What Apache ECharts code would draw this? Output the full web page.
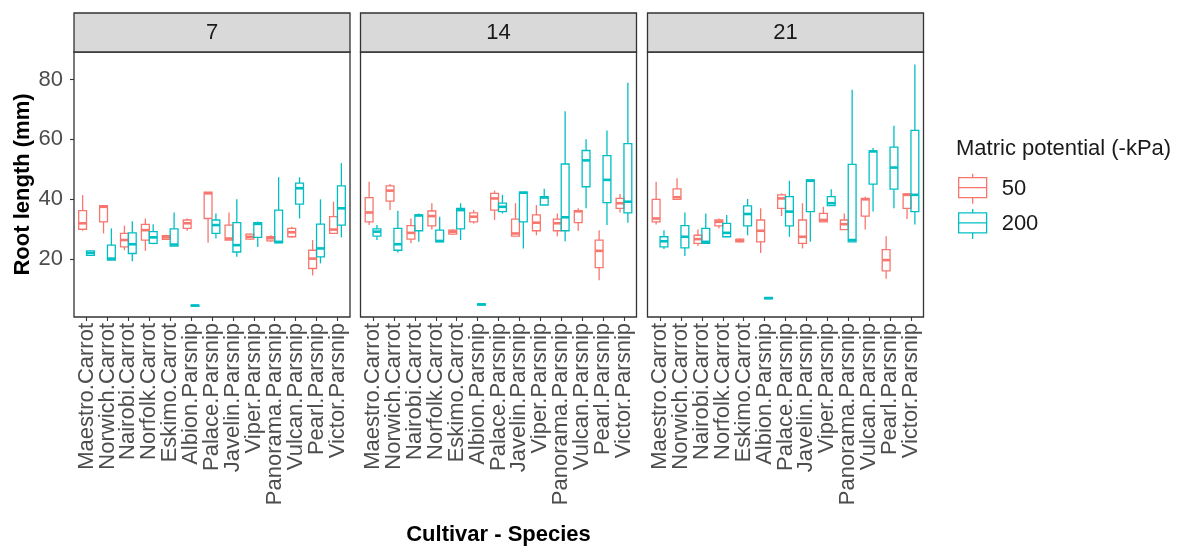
<!DOCTYPE html>
<html><head><meta charset="utf-8">
<script src="https://cdn.jsdelivr.net/npm/echarts@6/dist/echarts.min.js"></script>
<style>html,body{margin:0;padding:0;background:#fff}#c{width:1188px;height:550px}</style>
</head><body><div id="c"></div>
<script>
const categories = ['Maestro.Carrot','Norwich.Carrot','Nairobi.Carrot','Norfolk.Carrot','Eskimo.Carrot','Albion.Parsnip','Palace.Parsnip','Javelin.Parsnip','Viper.Parsnip','Panorama.Parsnip','Vulcan.Parsnip','Pearl.Parsnip','Victor.Parsnip'];
const days = ['7', '14', '21'];
const potentials = ['50', '200'];
const yTicks = [20, 40, 60, 80];

// each row: [min, Q1, median, Q3, max]
const day7_kPa50 = [[29.5,30.0,32.0,36.2,41.4],[28.6,32.5,37.5,37.9,37.9],[23.0,24.1,26.4,28.6,31.2],[22.8,26.4,29.7,31.6,33.6],[26.4,26.6,27.3,27.9,28.2],[29.5,30.3,32.0,33.1,33.6],[25.5,33.6,42.0,42.4,42.4],[26.4,26.4,26.9,31.4,35.6],[26.4,26.7,27.5,28.4,28.6],[25.8,26.1,27.0,27.5,28.0],[27.2,27.5,29.0,30.3,30.8],[14.6,16.9,20.2,23.0,26.4],[28.6,28.6,29.9,34.2,39.2]];
const day7_kPa200 = [[21.2,21.3,22.1,22.8,23.0],[19.7,19.7,20.2,24.7,30.3],[19.3,21.9,25.0,28.8,32.7],[25.0,25.3,27.3,29.2,31.7],[24.4,24.4,24.9,30.1,35.6],[4.2,4.3,4.5,4.7,4.8],[26.9,28.6,31.4,33.1,35.3],[20.8,22.4,24.7,32.2,40.0],[24.1,27.3,31.8,32.2,32.6],[25.5,25.5,25.8,36.4,47.4],[33.6,38.4,43.7,45.4,47.4],[18.6,20.8,23.6,31.7,40.0],[27.3,31.4,37.0,44.5,52.1]];
const day14_kPa50 = [[31.4,32.5,35.6,40.6,45.9],[36.4,39.4,42.9,44.5,45.1],[25.3,26.7,28.8,31.2,33.6],[29.9,31.1,34.4,36.1,38.7],[28.2,28.4,29.2,29.7,30.0],[31.9,32.5,34.2,35.5,36.4],[33.1,36.4,40.3,42.0,42.9],[27.7,27.7,28.6,33.4,38.7],[28.0,29.5,32.2,34.8,38.1],[27.7,29.5,32.0,33.4,35.3],[29.5,32.2,36.0,36.2,37.0],[13.0,17.2,22.8,26.4,29.7],[35.6,37.0,38.7,40.3,41.8]];
const day14_kPa200 = [[26.4,27.7,29.2,30.1,31.4],[22.2,23.0,25.0,30.3,36.2],[25.8,29.5,34.6,34.8,35.3],[25.8,25.8,26.1,29.7,34.2],[26.4,30.1,36.4,37.0,38.7],[4.6,4.7,4.9,5.1,5.2],[35.3,35.9,37.5,38.7,41.5],[23.6,32.5,42.2,42.4,42.4],[38.1,38.1,40.6,40.9,43.5],[26.0,29.5,34.0,51.8,69.4],[37.0,44.2,53.0,56.3,60.1],[31.4,38.9,46.5,54.6,63.0],[32.2,35.5,39.2,58.6,78.9]];
const day21_kPa50 = [[31.6,32.5,33.6,40.0,45.9],[40.0,40.0,40.7,43.5,47.0],[24.4,25.3,26.7,28.0,29.9],[30.3,31.1,32.5,33.1,33.6],[25.6,25.8,26.2,26.7,26.9],[22.1,25.8,29.5,33.1,37.0],[34.4,37.0,40.3,41.5,42.0],[23.6,25.3,27.5,33.1,38.7],[32.5,32.5,33.1,35.3,37.5],[29.9,29.9,31.7,33.1,35.3],[29.9,34.4,40.0,40.3,40.9],[13.5,16.1,19.7,23.2,27.7],[33.4,37.0,41.5,41.8,41.8]];
const day21_kPa200 = [[23.4,24.1,26.0,27.5,29.7],[21.1,23.8,27.5,31.2,35.6],[25.3,25.3,25.8,30.3,35.3],[27.5,27.5,28.8,32.0,34.8],[28.0,31.1,35.1,37.8,40.1],[6.7,6.8,7.0,7.2,7.3],[27.5,31.1,35.9,40.9,46.2],[25.8,35.9,46.2,46.5,46.5],[37.9,37.9,38.7,40.9,43.4],[25.8,25.8,26.4,51.7,76.6],[35.9,45.1,56.0,56.2,57.1],[37.0,43.4,50.6,57.4,64.6],[31.6,35.9,41.5,63.0,85.0]];

const seriesByDay = [[day7_kPa50, day7_kPa200], [day14_kPa50, day14_kPa200], [day21_kPa50, day21_kPa200]];

// ---- layout / style ----
const FONT = "'Liberation Sans', Arial, sans-serif";
const COLORS = ['#F8766D', '#00BFC4'];
const DODGE = [-0.1875, 0.1875];
const PANEL_LEFT = [74, 360.5, 647.5];
const PANEL_W = 276, PANEL_TOP = 52, PANEL_H = 265, STRIP_TOP = 13;
const UNIT = PANEL_W / (categories.length - 1 + 1.2);
const INSET = 0.1 * UNIT;
const Y_MIN = 0.7, Y_MAX = 89.2;

function makeRenderer(color, dodge) {
  return function (params, api) {
    const i = api.value(0);
    const band = api.size([1, 0])[0];
    const cx = api.coord([i, api.value(3)])[0] + dodge * band;
    const w = band * 0.375;
    const y = k => api.coord([i, api.value(k)])[1];
    const yMin = y(1), yQ1 = y(2), yMed = y(3), yQ3 = y(4), yMax = y(5);
    const ls = { stroke: color, lineWidth: 1.3 };
    return { type: 'group', children: [
      { type: 'line', shape: { x1: cx, y1: yMax, x2: cx, y2: yQ3 }, style: ls },
      { type: 'line', shape: { x1: cx, y1: yQ1, x2: cx, y2: yMin }, style: ls },
      { type: 'rect', shape: { x: cx - w / 2, y: yQ3, width: w, height: yQ1 - yQ3 }, style: { stroke: color, lineWidth: 1.3, fill: 'rgba(0,0,0,0)' } },
      { type: 'line', shape: { x1: cx - w / 2, y1: yMed, x2: cx + w / 2, y2: yMed }, style: { stroke: color, lineWidth: 2.6 } }
    ] };
  };
}

const grids = [], xAxes = [], yAxes = [], series = [], graphics = [];
days.forEach((day, d) => {
  grids.push({ left: PANEL_LEFT[d] + INSET, top: PANEL_TOP, width: PANEL_W - 2 * INSET, height: PANEL_H, show: false, outerBoundsMode: 'none', containLabel: false });
  xAxes.push({
    type: 'category', gridIndex: d, data: categories, boundaryGap: true,
    axisLine: { show: false },
    axisTick: { show: true, alignWithLabel: true, length: 4, lineStyle: { color: '#333', width: 1.1 } },
    axisLabel: { rotate: 90, interval: 0, fontSize: 22, color: '#4D4D4D', margin: 6, fontFamily: FONT },
    splitLine: { show: false },
    name: d === 1 ? 'Cultivar - Species' : '',
    nameLocation: 'middle', nameGap: 207,
    nameTextStyle: { fontSize: 22, fontWeight: 'bold', color: '#000', fontFamily: FONT }
  });
  yAxes.push({
    type: 'value', gridIndex: d, min: Y_MIN, max: Y_MAX, offset: INSET,
    axisLine: { show: false },
    axisTick: { show: d === 0, length: 4, customValues: yTicks, lineStyle: { color: '#333', width: 1.1 } },
    axisLabel: { show: d === 0, customValues: yTicks, fontSize: 22, color: '#4D4D4D', margin: 11, fontFamily: FONT },
    splitLine: { show: false },
    name: d === 0 ? 'Root length (mm)' : '',
    nameLocation: 'middle', nameGap: 40,
    nameTextStyle: { fontSize: 22, fontWeight: 'bold', color: '#000', fontFamily: FONT }
  });
  potentials.forEach((p, j) => {
    series.push({
      type: 'custom', name: p, xAxisIndex: d, yAxisIndex: d,
      itemStyle: { color: COLORS[j] },
      encode: { x: 0, y: [1, 2, 3, 4, 5] },
      data: seriesByDay[d][j].map((v, i) => [i].concat(v)),
      renderItem: makeRenderer(COLORS[j], DODGE[j]),
      silent: true, animation: false
    });
  });
  graphics.push({
    type: 'rect', z: 100, silent: true,
    shape: { x: PANEL_LEFT[d], y: PANEL_TOP, width: PANEL_W, height: PANEL_H },
    style: { fill: 'none', stroke: '#333', lineWidth: 1.3 }
  });
  graphics.push({
    type: 'rect', z: 100, silent: true,
    shape: { x: PANEL_LEFT[d], y: STRIP_TOP, width: PANEL_W, height: PANEL_TOP - STRIP_TOP },
    style: { fill: '#D9D9D9', stroke: '#333', lineWidth: 1.3 }
  });
  graphics.push({
    type: 'text', z: 101, silent: true,
    x: PANEL_LEFT[d] + PANEL_W / 2, y: (STRIP_TOP + PANEL_TOP) / 2,
    style: { text: day, fontSize: 22, fill: '#1A1A1A', fontFamily: FONT, align: 'center', verticalAlign: 'middle' }
  });
});

const ICON = 'path://M14,0L14,4M0,4L28,4L28,24L0,24ZM0,14L28,14M14,24L14,30';

const option = {
  backgroundColor: '#fff',
  animation: false,
  textStyle: { fontFamily: FONT },
  title: { text: 'Matric potential (-kPa)', left: 956, top: 138, padding: 0,
    textStyle: { fontSize: 22, fontWeight: 'normal', color: '#1A1A1A', fontFamily: FONT } },
  legend: {
    orient: 'vertical', left: 958, top: 173, padding: 0,
    itemWidth: 28, itemHeight: 30, itemGap: 4, selectedMode: false,
    textStyle: { fontSize: 22, color: '#1A1A1A', fontFamily: FONT, padding: [0, 0, 0, 10] },
    data: potentials.map((p, j) => ({ name: p, icon: ICON,
      itemStyle: { color: 'rgba(0,0,0,0)', borderColor: COLORS[j], borderWidth: 1.3 } }))
  },
  grid: grids, xAxis: xAxes, yAxis: yAxes, series: series,
  graphic: graphics
};
const chart = echarts.init(document.getElementById('c'), null, { renderer: 'canvas' });
chart.setOption(option);
</script></body></html>
